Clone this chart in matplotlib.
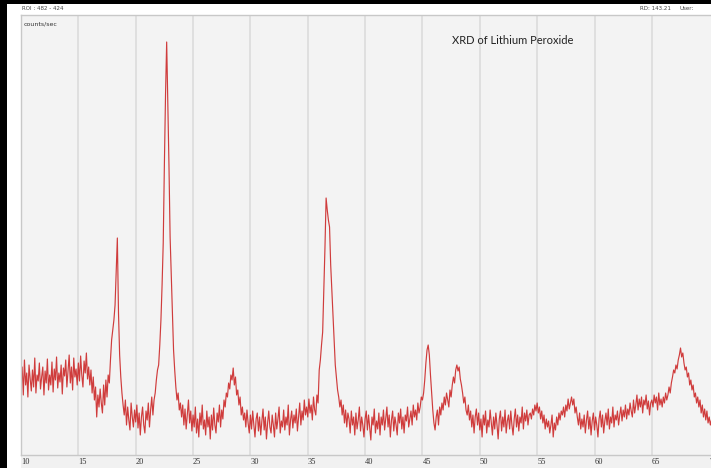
import matplotlib
matplotlib.use("Agg")
import matplotlib.pyplot as plt
from matplotlib.patches import Rectangle
import numpy as np

# 2-theta start / step of the scan (degrees)
two_theta_start = 10.0
two_theta_step = 0.1

# intensity (counts/sec, arbitrary scale), 10.0 .. 70.2 deg
counts = [
    72, 88, 60, 95, 70, 82, 58, 90, 76, 64,
    85, 68, 97, 62, 80, 74, 92, 66, 78, 88,
    60, 84, 72, 96, 65, 80, 70, 93, 63, 86,
    75, 98, 67, 82, 73, 90, 61, 87, 79, 95,
    68, 84, 100, 72, 88, 65, 97, 78, 86, 70,
    92, 74, 99, 80, 68, 94, 82, 102, 76, 88,
    70, 85, 62, 78, 55, 68, 38, 60, 48, 66,
    52, 42, 70, 50, 75, 58, 80, 72, 95, 115,
    125, 135, 150, 185, 217, 142, 100, 78, 62, 50,
    40, 55, 30, 48, 35, 25, 52, 38, 28, 45,
    33, 50, 27, 42, 20, 38, 48, 30, 22, 44,
    35, 52, 28, 45, 58, 40, 55, 62, 75, 85,
    90, 110, 135, 170, 212, 290, 360, 413, 352, 290,
    218, 180, 142, 105, 85, 68, 55, 62, 45, 52,
    38, 50, 30, 46, 26, 40, 55, 32, 44, 24,
    40, 28, 48, 22, 36, 18, 42, 30, 50, 26,
    35, 20, 44, 28, 38, 16, 40, 25, 47, 30,
    22, 42, 33, 50, 28, 45, 36, 55, 48, 62,
    58, 72, 66, 80, 75, 87, 70, 78, 60, 65,
    50, 58, 40, 48, 35, 42, 28, 45, 32, 22,
    40, 26, 44, 30, 18, 36, 42, 24, 38, 20,
    34, 46, 25, 38, 16, 32, 44, 28, 22, 40,
    30, 18, 42, 26, 36, 48, 22, 34, 28, 45,
    25, 38, 30, 50, 20, 35, 44, 27, 40, 32,
    46, 24, 38, 52, 30, 44, 35, 55, 40, 48,
    38, 56, 42, 50, 35, 58, 45, 40, 60, 52,
    85, 95, 110, 123, 165, 207, 257, 245, 235, 228,
    190, 165, 138, 115, 90, 78, 65, 58, 48, 55,
    40, 50, 32, 45, 28, 42, 36, 22, 44, 30,
    38, 20, 42, 26, 35, 48, 24, 38, 30, 18,
    36, 44, 25, 40, 28, 15, 38, 30, 46, 22,
    34, 26, 42, 20, 38, 30, 45, 25, 36, 48,
    28, 40, 18, 35, 44, 24, 38, 30, 20, 42,
    32, 46, 26, 38, 22, 40, 34, 48, 28, 36,
    44, 30, 50, 38, 45, 35, 52, 42, 48, 58,
    55, 62, 75, 92, 105, 110, 100, 80, 62, 45,
    32, 25, 38, 45, 30, 48, 40, 52, 45, 58,
    50, 62, 55, 48, 65, 58, 70, 78, 72, 85,
    90, 84, 88, 76, 70, 62, 52, 58, 45, 40,
    50, 35, 44, 28, 40, 22, 38, 46, 30, 42,
    25, 36, 18, 40, 30, 44, 22, 35, 28, 45,
    32, 20, 38, 26, 42, 30, 16, 36, 44, 24,
    38, 28, 45, 22, 34, 40, 26, 44, 30, 20,
    36, 46, 28, 40, 24, 38, 32, 48, 26, 42,
    34, 45, 30, 40, 42, 36, 46, 40, 50, 44,
    52, 42, 48, 36, 44, 32, 40, 26, 36, 28,
    34, 22, 30, 40, 18, 32, 25, 38, 30, 42,
    35, 44, 40, 48, 38, 50, 44, 56, 46, 52,
    58, 50, 56, 42, 48, 38, 30, 42, 26, 36,
    28, 40, 22, 35, 44, 26, 38, 20, 34, 42,
    25, 38, 30, 18, 36, 44, 28, 40, 22, 34,
    42, 30, 46, 26, 38, 32, 48, 28, 40, 35,
    44, 30, 40, 48, 34, 45, 38, 50, 36, 46,
    40, 52, 44, 38, 55, 42, 50, 60, 45, 56,
    48, 58, 42, 55, 50, 60, 46, 54, 40, 52,
    55, 48, 60, 52, 58, 45, 62, 50, 56, 48,
    58, 52, 62, 55, 60, 68, 62, 72, 78, 85,
    82, 90, 86, 95, 100, 107, 98, 102, 92, 85,
    88, 78, 82, 70, 75, 65, 70, 58, 62, 52,
    58, 48, 55, 42, 50, 38, 46, 35, 44, 32,
    38, 30, 35,
]

x_ticks = [10, 15, 20, 25, 30, 35, 40, 45, 50, 55, 60, 65, 70]
x_tick_labels = ["10", "15", "20", "25", "30", "35", "40", "45", "50", "55", "60", "65", "70"]

title = "XRD of Lithium Peroxide"
y_label = "counts/sec"
header_left = "ROI : 482 - 424"
header_right = "RD: 143.21"
header_user = "User:"

two_theta = two_theta_start + two_theta_step * np.arange(len(counts))

W, H = 711, 468
fig = plt.figure(figsize=(W / 100, H / 100), dpi=100)
fig.patch.set_facecolor("white")

# label strip background
fig.patches.append(Rectangle((21 / W, 0), 1 - 21 / W, 13 / H, transform=fig.transFigure,
                             facecolor="#f1f1f1", edgecolor="none", zorder=-5))

ax = fig.add_axes([21 / W, 13 / H, 690 / W, 440 / H])
ax.set_zorder(1)
ax.set_facecolor("#f3f3f3")
ax.plot(two_theta, counts, color="#cc2828", lw=0.85, alpha=0.9)

ax.set_xlim(10, 10 + 690 / 11.47)
ax.set_ylim(0, 440)
ax.set_xticks(x_ticks)
ax.set_xticklabels(x_tick_labels, ha="left", fontsize=6, color="#333333",
                   family="Liberation Serif")
ax.tick_params(axis="x", length=0, pad=2)
ax.set_yticks([])
for xv in x_ticks[1:-1]:
    ax.axvline(xv, color="#dcdcdc", lw=1.2, zorder=0)
for s in ["top", "left", "bottom"]:
    ax.spines[s].set_color("#c8c8c8")
    ax.spines[s].set_linewidth(1.0)
ax.spines["right"].set_visible(False)

ax.text(0.004, 0.985, y_label, transform=ax.transAxes, fontsize=4.5, color="#333333",
        ha="left", va="top")

fig.text(513 / W, 1 - 40 / H, title, ha="center", va="center", fontsize=8,
         color="#222222", family="Lato")
fig.text(22 / W, 1 - 9 / H, header_left, ha="left", va="center", fontsize=4, color="#444444")
fig.text(640 / W, 1 - 9 / H, header_right, ha="left", va="center", fontsize=4, color="#444444")
fig.text(680 / W, 1 - 9 / H, header_user, ha="left", va="center", fontsize=4, color="#444444")

# black border (left and top)
fig.patches.append(Rectangle((0, 0), 7 / W, 1, transform=fig.transFigure,
                             facecolor="black", edgecolor="none", zorder=5))
fig.patches.append(Rectangle((0, 1 - 4 / H), 1, 4 / H, transform=fig.transFigure,
                             facecolor="black", edgecolor="none", zorder=5))

fig.savefig("out.png", dpi=100, facecolor="white")
